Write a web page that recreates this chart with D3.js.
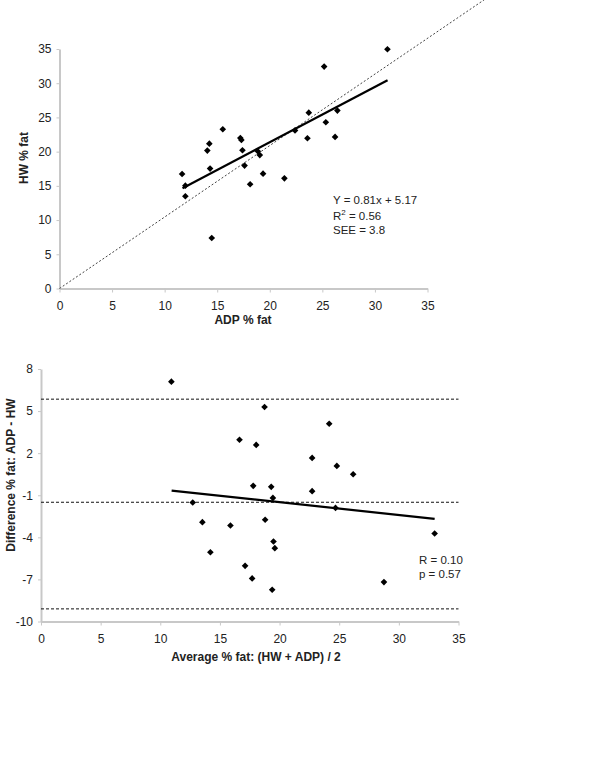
<!DOCTYPE html>
<html>
<head>
<meta charset="utf-8">
<script src="https://cdn.jsdelivr.net/npm/d3@7"></script>
<style>
  html, body { margin: 0; padding: 0; background: #fff; }
  svg { display: block; font-family: "Liberation Sans", Arial, sans-serif; }
</style>
</head>
<body>
<svg id="chart" width="600" height="762"></svg>
<script>
// ---- Data: top chart (HW vs ADP) ----
const adpFat = [11.66, 11.97, 11.97, 15.53, 14.25, 14.06, 14.32, 14.48, 17.2, 17.3, 17.4, 17.6, 18.13, 18.86, 19.05, 19.36, 21.39, 22.4, 31.19, 25.17, 23.71, 26.43, 25.33, 23.58, 26.21];
const hwFat  = [16.74, 15.03, 13.48, 23.27, 21.17, 20.15, 17.52, 7.38, 22.0, 21.7, 20.2, 17.96, 15.23, 20.05, 19.5, 16.78, 16.1, 23.1, 34.97, 32.43, 25.7, 26.0, 24.3, 21.96, 22.15];
const identityLine = [[0, 0], [40.4, 42.2]];
const fitTop = [[11.7, 14.65], [31.2, 30.44]];
const topTicks = [0, 5, 10, 15, 20, 25, 30, 35];
const topStats = ["Y = 0.81x + 5.17", "R2 = 0.56", "SEE = 3.8"];

// ---- Data: bottom chart (Bland-Altman) ----
const avgFat  = [10.93, 12.72, 13.53, 14.2, 15.88, 16.64, 17.11, 17.7, 17.79, 18.04, 18.74, 18.79, 19.3, 19.44, 19.38, 19.49, 19.6, 24.16, 22.73, 24.8, 26.17, 22.73, 24.69, 33.0, 28.75];
const diffFat = [7.10, -1.52, -2.92, -5.06, -3.16, 2.96, -6.03, -6.93, -0.33, 2.59, 5.29, -2.75, -0.40, -1.19, -7.74, -4.3, -4.77, 4.1, 1.66, 1.09, 0.5, -0.71, -1.9, -3.73, -7.19];
const limitLines = [5.85, -1.5, -9.1];
const fitBottom = [[10.95, -0.67], [33.0, -2.68]];
const bottomXTicks = [0, 5, 10, 15, 20, 25, 30, 35];
const bottomYTicks = [8, 5, 2, -1, -4, -7, -10];
const bottomStats = ["R = 0.10", "p = 0.57"];

const svg = d3.select("#chart");
const axisColor = "#c8c8c8";
const textColor = "#222";
const markerPath = d3.symbol().type(d3.symbolSquare).size(22)();
const plainFmt = d => String(d);

function styleAxis(g) {
  g.select(".domain").attr("stroke", axisColor).attr("stroke-width", 2);
  g.selectAll(".tick line").attr("stroke", axisColor).attr("stroke-width", 1);
  g.selectAll(".tick text").attr("fill", textColor).attr("font-size", 12)
    .attr("font-family", "Liberation Sans, Arial, sans-serif");
}

// ================= TOP CHART =================
const x1 = d3.scaleLinear().domain([0, 35]).range([59.5, 427.5]);
const y1 = d3.scaleLinear().domain([0, 35]).range([288.5, 49]);

svg.append("g").attr("transform", `translate(0,${y1(0)})`)
  .call(d3.axisBottom(x1).tickValues(topTicks).tickFormat(plainFmt).tickSize(4).tickSizeOuter(0).tickPadding(9))
  .call(styleAxis);
svg.append("g").attr("transform", `translate(${x1(0)},0)`)
  .call(d3.axisLeft(y1).tickValues(topTicks).tickFormat(plainFmt).tickSize(3).tickSizeOuter(0).tickPadding(5))
  .call(styleAxis);

const line1 = d3.line().x(d => x1(d[0])).y(d => y1(d[1]));
svg.append("path").attr("d", line1(identityLine))
  .attr("fill", "none").attr("stroke", "#444").attr("stroke-width", 1)
  .attr("stroke-dasharray", "2,2");
svg.append("path").attr("d", line1(fitTop))
  .attr("fill", "none").attr("stroke", "#000").attr("stroke-width", 2.2);

svg.append("g").selectAll("path").data(adpFat.map((v, i) => [v, hwFat[i]])).join("path")
  .attr("d", markerPath)
  .attr("transform", d => `translate(${x1(d[0])},${y1(d[1])}) rotate(45)`)
  .attr("fill", "#000");

// labels
svg.append("text").attr("x", 243).attr("y", 324).attr("text-anchor", "middle")
  .attr("font-size", 12).attr("font-weight", "bold").attr("fill", textColor).text("ADP % fat");
svg.append("text").attr("transform", "translate(28,158) rotate(-90)").attr("text-anchor", "middle")
  .attr("font-size", 12).attr("font-weight", "bold").attr("fill", textColor).text("HW % fat");

// stats
const st = svg.append("g").attr("font-size", 11.5).attr("fill", textColor);
st.append("text").attr("x", 333).attr("y", 204).text(topStats[0]);
const r2 = st.append("text").attr("x", 333).attr("y", 220);
r2.append("tspan").text("R");
r2.append("tspan").attr("font-size", 8).attr("dy", -5).text("2");
r2.append("tspan").attr("dy", 5).text(" = 0.56");
st.append("text").attr("x", 333).attr("y", 234).text(topStats[2]);

// ================= BOTTOM CHART =================
const x2 = d3.scaleLinear().domain([0, 35]).range([41, 458.5]);
const y2 = d3.scaleLinear().domain([-10, 8]).range([621.5, 369]);

svg.append("g").attr("transform", `translate(0,${y2(-10)})`)
  .call(d3.axisBottom(x2).tickValues(bottomXTicks).tickFormat(plainFmt).tickSize(4).tickSizeOuter(0).tickPadding(9))
  .call(styleAxis);
svg.append("g").attr("transform", `translate(${x2(0)},0)`)
  .call(d3.axisLeft(y2).tickValues(bottomYTicks).tickFormat(plainFmt).tickSize(3).tickSizeOuter(0).tickPadding(5))
  .call(styleAxis);

svg.append("g").selectAll("line").data(limitLines).join("line")
  .attr("x1", x2(0)).attr("x2", x2(35))
  .attr("y1", d => y2(d)).attr("y2", d => y2(d))
  .attr("stroke", "#111").attr("stroke-width", 1).attr("stroke-dasharray", "3,2");

const line2 = d3.line().x(d => x2(d[0])).y(d => y2(d[1]));
svg.append("path").attr("d", line2(fitBottom))
  .attr("fill", "none").attr("stroke", "#000").attr("stroke-width", 2.2);

svg.append("g").selectAll("path").data(avgFat.map((v, i) => [v, diffFat[i]])).join("path")
  .attr("d", markerPath)
  .attr("transform", d => `translate(${x2(d[0])},${y2(d[1])}) rotate(45)`)
  .attr("fill", "#000");

svg.append("text").attr("x", 256).attr("y", 661).attr("text-anchor", "middle")
  .attr("font-size", 12).attr("font-weight", "bold").attr("fill", textColor)
  .text("Average % fat: (HW + ADP) / 2");
svg.append("text").attr("transform", "translate(15,475) rotate(-90)").attr("text-anchor", "middle")
  .attr("font-size", 12).attr("font-weight", "bold").attr("fill", textColor)
  .text("Difference % fat: ADP - HW");

const sb = svg.append("g").attr("font-size", 11.5).attr("fill", textColor);
sb.append("text").attr("x", 419).attr("y", 564).text(bottomStats[0]);
sb.append("text").attr("x", 419).attr("y", 578).text(bottomStats[1]);
</script>
</body>
</html>
